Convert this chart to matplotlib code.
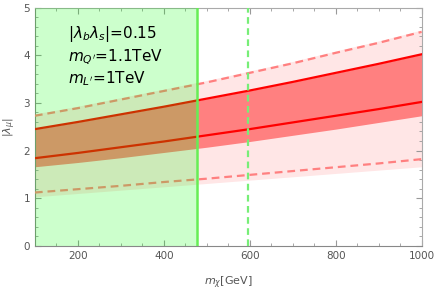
import matplotlib
matplotlib.use("Agg")
import matplotlib.pyplot as plt
from matplotlib.ticker import MultipleLocator

plt.rcParams['mathtext.fontset'] = 'dejavusans'

# masses in GeV
m_chi = [100, 200, 300, 400, 500, 600, 700, 800, 900, 1000]

# |lambda_mu| curves
solid_hi = [2.45, 2.60, 2.76, 2.92, 3.09, 3.26, 3.44, 3.63, 3.82, 4.02]
solid_lo = [1.84, 1.95, 2.07, 2.19, 2.32, 2.45, 2.59, 2.73, 2.87, 3.02]
dash_hi = [2.73, 2.89, 3.07, 3.25, 3.43, 3.63, 3.83, 4.05, 4.26, 4.49]
dash_lo = [1.12, 1.19, 1.26, 1.34, 1.41, 1.49, 1.57, 1.65, 1.73, 1.82]
dark_lo = [1.66, 1.75, 1.85, 1.96, 2.07, 2.19, 2.32, 2.45, 2.59, 2.73]
light_hi = [2.77, 2.93, 3.11, 3.29, 3.47, 3.67, 3.87, 4.09, 4.30, 4.53]
light_lo = [1.03, 1.10, 1.17, 1.24, 1.31, 1.38, 1.45, 1.52, 1.59, 1.66]

excl_solid = 478   # excluded region edge
excl_dash = 595

fig = plt.figure(figsize=(4.36, 2.91), dpi=100)
ax = fig.add_axes([0.080, 0.155, 0.887, 0.819])

ax.fill_between(m_chi, light_lo, light_hi, color='#ffe6e6', lw=0, zorder=1)
ax.fill_between(m_chi, dark_lo, solid_hi, color='#ff8080', lw=0, zorder=2)
ax.plot(m_chi, solid_hi, color='red', lw=1.6, zorder=3)
ax.plot(m_chi, solid_lo, color='red', lw=1.6, zorder=3)
ax.plot(m_chi, dash_hi, color='#ff8080', lw=1.6, ls=(0, (3.5, 2.2)), zorder=3)
ax.plot(m_chi, dash_lo, color='#ff8080', lw=1.6, ls=(0, (3.5, 2.2)), zorder=3)

ax.axvspan(100, excl_solid, color='#00ff00', alpha=0.2, lw=0, zorder=4)
ax.axvline(excl_solid, color='#66ee55', lw=1.8, zorder=5)
ax.axvline(excl_dash, color='#77ee77', lw=1.6, ls=(0, (3, 2)), zorder=5)

ax.text(176, 4.44, r'$|\lambda_b\lambda_s|$=0.15', fontsize=11, va='center', zorder=6)
ax.text(176, 3.96, r"$m_{Q'}$=1.1TeV", fontsize=11, va='center', zorder=6)
ax.text(176, 3.50, r"$m_{L'}$=1TeV", fontsize=11, va='center', zorder=6)

ax.set_xlim(100, 1000)
ax.set_ylim(0, 5)
ax.xaxis.set_major_locator(MultipleLocator(200))
ax.xaxis.set_minor_locator(MultipleLocator(50))
ax.yaxis.set_major_locator(MultipleLocator(1))
ax.yaxis.set_minor_locator(MultipleLocator(0.2))
ax.tick_params(which='both', direction='in', top=True, right=True,
               color='#999999', labelcolor='#555555', labelsize=7.5)
ax.tick_params(which='major', length=4)
ax.tick_params(which='minor', length=2)
for s in ax.spines.values():
    s.set_color('#aaaaaa')
ax.spines['left'].set_color('#888888')
ax.spines['bottom'].set_color('#888888')

ax.set_ylabel(r'$|\lambda_\mu|$', fontsize=8, color='#555555', labelpad=4)
ax.set_xlabel(r'$m_\chi$[GeV]', fontsize=8, color='#555555', labelpad=10)

fig.savefig('out.png', dpi=100)
